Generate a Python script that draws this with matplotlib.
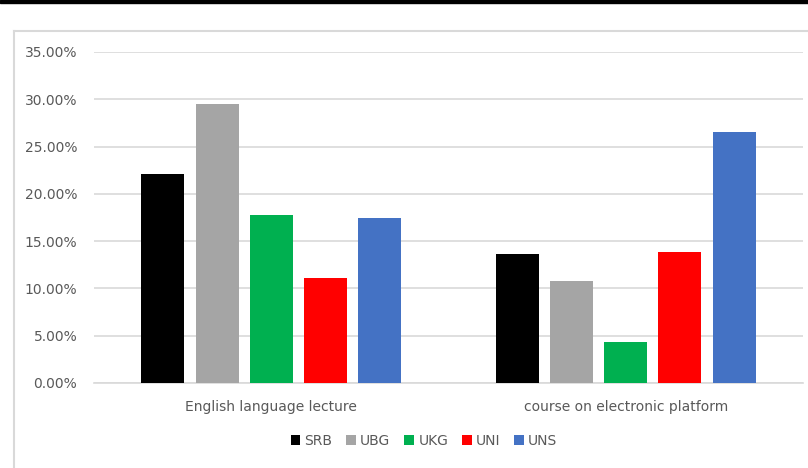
import matplotlib.pyplot as plt
import numpy as np
from matplotlib.lines import Line2D
from matplotlib.patches import Rectangle

# categories and series (shares in %)
categories = ['English language lecture', 'course on electronic platform']
series = ['SRB', 'UBG', 'UKG', 'UNI', 'UNS']
values = {
    'SRB': [22.15, 13.68],
    'UBG': [29.5, 10.83],
    'UKG': [17.76, 4.37],
    'UNI': [11.15, 13.86],
    'UNS': [17.48, 26.59],
}
colors = ['#000000', '#a5a5a5', '#00b050', '#ff0000', '#4472c4']
yticks = [0, 5, 10, 15, 20, 25, 30, 35]

W, H = 808, 468
fig = plt.figure(figsize=(W / 100, H / 100), dpi=100)
ax = fig.add_axes([94 / W, (H - 383) / H, (803 - 94) / W, (383 - 52) / H])

x = np.arange(len(categories))
step = 0.153
width = 0.1213
for i, (name, col) in enumerate(zip(series, colors)):
    ax.bar(x + (i - 2) * step, values[name], width, color=col, label=name, zorder=3)

ax.set_xlim(-0.5, 1.5)
ax.set_ylim(0, 35)
ax.set_yticks(yticks)
ax.set_yticklabels([f'{v:.2f}%' for v in yticks])
ax.set_xticks(x)
ax.set_xticklabels(categories)
ax.tick_params(axis='both', length=0, colors='#595959', labelsize=10)
ax.tick_params(axis='y', pad=12)
ax.tick_params(axis='x', pad=12)
ax.yaxis.grid(True, color='#d9d9d9', linewidth=1.2, zorder=0)
for s in ['top', 'right', 'left']:
    ax.spines[s].set_visible(False)
ax.spines['bottom'].set_color('#d9d9d9')
ax.spines['bottom'].set_linewidth(1.2)

fig.legend(loc='center', bbox_to_anchor=(424 / W, 1 - 441 / H), ncol=5, frameon=False,
           handlelength=0.7, handleheight=0.7, handletextpad=0.3, columnspacing=1.0,
           fontsize=10, labelcolor='#595959')

# outer chart frame and black band at the top
fig.add_artist(Line2D([13.5 / W, 13.5 / W], [0, 1 - 31 / H], color='#d9d9d9', lw=1.5))
fig.add_artist(Line2D([13.5 / W, 1], [1 - 31 / H, 1 - 31 / H], color='#d9d9d9', lw=1.5))
fig.add_artist(Rectangle((0, 1 - 3 / H), 1, 3 / H, color='black', transform=fig.transFigure))

fig.savefig('out.png', dpi=100)
